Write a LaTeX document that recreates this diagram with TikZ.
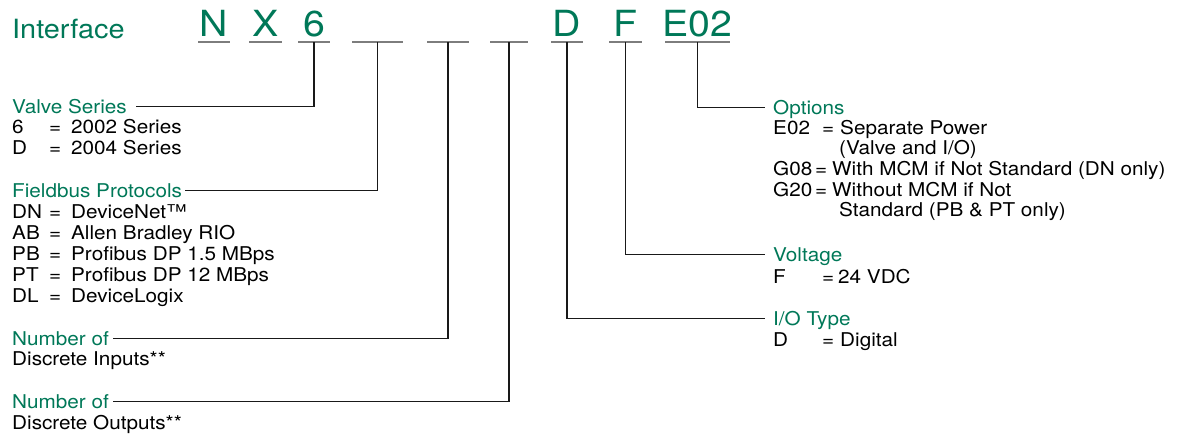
\documentclass[tikz,border=0pt]{standalone}
\usepackage{fontspec}
\setmainfont{TeX Gyre Heros}[FakeStretch=1.09]
\usetikzlibrary{positioning}
\definecolor{pgreen}{RGB}{0,120,88}
\definecolor{ulgray}{RGB}{125,125,125}
% code = value, with fixed column widths
\newcommand{\entry}[4]{\makebox[#1][l]{#3}\makebox[#2][l]{=}#4}
\newcommand{\lft}[2]{\entry{37pt}{22pt}{#1}{#2}}
\begin{document}
\begin{tikzpicture}[x=1pt,y=-1pt,
	blank/.style={ulgray,line width=2pt},
	conn/.style={black!90,line width=1.2pt},
	code/.style={pgreen,font=\fontsize{36}{40}\selectfont,inner sep=0pt,anchor=base},
	title/.style={pgreen,font=\fontsize{19}{20}\selectfont,inner sep=0pt,text height=13.6pt,text depth=0pt,anchor=base west},
	list/.style={font=\fontsize{19}{21}\selectfont,inner sep=0pt,anchor=base west}]
	\useasboundingbox (0,0) rectangle (1189,434);
	% Cac o trong cua ma dat hang
	\foreach \a/\b [count=\i] in {198/230,249/282,298/330,352/403,427/469,490/528,551/583,609/642,665/730} {
		\draw[blank] (\a,42) -- (\b,42);
		\coordinate (u\i) at ({(\a+\b)/2},42);
	}
	\node[pgreen,font=\fontsize{26.5}{30}\selectfont,inner sep=0pt,anchor=base west] (iface) at (12,38) {Interface};
	\node[code] (cN) at ([yshift=6pt]u1) {N};
	\node[code] (cX) at ([yshift=6pt]u2) {X};
	\node[code] (c6) at ([yshift=6pt]u3) {6};
	\node[code] (cD) at ([yshift=6pt]u7) {D};
	\node[code] (cF) at ([yshift=6pt]u8) {F};
	\node[code] (cE) at ([yshift=6pt]u9) {E02};
	% Cot trai
	\node[title] (valve) at (12,113) {Valve Series};
	\node[list] (valvelist) at (12,133) {\begin{tabular}[t]{@{}l@{}}
		\lft{6}{2002 Series}\\ \lft{D}{2004 Series}\end{tabular}};
	\node[title] (field) at (12,197) {Fieldbus Protocols};
	\node[list] (fieldlist) at (12,218) {\begin{tabular}[t]{@{}l@{}}
		\lft{DN}{DeviceNet™}\\ \lft{AB}{Allen Bradley RIO}\\ \lft{PB}{Profibus DP 1.5 MBps}\\
		\lft{PT}{Profibus DP 12 MBps}\\ \lft{DL}{DeviceLogix}\end{tabular}};
	\node[title] (inputs) at (12,345.5) {Number of};
	\node[list] (inputsub) at (12,365) {Discrete Inputs**};
	\node[title] (outputs) at (12,408) {Number of};
	\node[list] (outputsub) at (12,429) {Discrete Outputs**};
	% Cot phai
	\node[title] (options) at (773,114.5) {Options};
	\node[list,font=\fontsize{19}{20.7}\selectfont] (optlist) at (773,134) {\begin{tabular}[t]{@{}l@{}}
		\entry{49pt}{18pt}{E02}{Separate Power}\\ \hspace*{66pt}(Valve and I/O)\\
		\entry{42pt}{17pt}{G08}{With MCM if Not Standard (DN only)}\\
		\entry{42pt}{17pt}{G20}{Without MCM if Not}\\ \hspace*{66pt}Standard (PB \& PT only)\end{tabular}};
	\node[title] (volt) at (773,261) {Voltage};
	\node[list] (voltlist) at (773,283) {\entry{49pt}{16pt}{F}{24 VDC}};
	\node[title] (iotype) at (773,325) {I/O Type};
	\node[list] (iolist) at (773,346) {\entry{49pt}{18pt}{D}{Digital}};
	% Duong noi
	\draw[conn,shorten >=9pt] (u3) |- (valve.east);
	\draw[conn,shorten >=3pt] (u4) |- (field.east);
	\draw[conn,shorten >=4pt] (u5) |- (inputs.east);
	\draw[conn,shorten >=4pt] (u6) |- (outputs.east);
	\draw[conn,shorten >=8pt] (u7) |- (iotype.west);
	\draw[conn,shorten >=8pt] (u8) |- (volt.west);
	\draw[conn,shorten >=8pt] (u9) |- (options.west);
\end{tikzpicture}
\end{document}
